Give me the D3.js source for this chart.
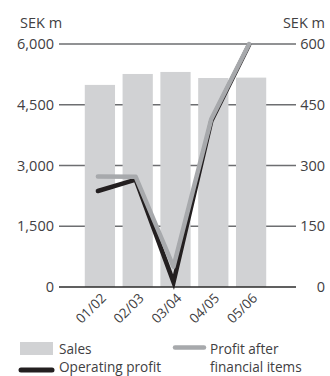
<!DOCTYPE html>
<html><head><meta charset="utf-8">
<script src="https://cdn.jsdelivr.net/npm/d3@7"></script>
<style>
body{margin:0;background:#fff;}
svg{display:block;font-family:"Open Sans",sans-serif;}
</style></head>
<body><svg id="c" width="330" height="376"></svg>
<script>
const categories = ["01/02","02/03","03/04","04/05","05/06"];
const sales = [4990, 5260, 5310, 5160, 5170];
const operatingProfit = [237, 265, 12, 410, 598];
const profitAfterFin = [273, 272, 50, 415, 600];
const leftTicks = [0, 1500, 3000, 4500, 6000];
const rightTicks = [0, 150, 300, 450, 600];

const svg = d3.select("#c");
const txt = "#414042";
const fs = "14.5px";
const lfs = "13.6px";

const x = d3.scaleBand().domain(categories).range([81, 270]).paddingInner(0.2).paddingOuter(0.1);
const yL = d3.scaleLinear().domain([0, 6000]).range([287, 44]);
const yR = d3.scaleLinear().domain([0, 600]).range([287, 44]);
const fmt = d3.format(",");

// gridlines
svg.append("g").selectAll("line").data(leftTicks.filter(d => d > 0)).join("line")
  .attr("x1", 59).attr("x2", 296)
  .attr("y1", d => yL(d)).attr("y2", d => yL(d))
  .attr("stroke", "#6d6e71").attr("stroke-width", 1.3);

// bars
svg.append("g").selectAll("rect").data(categories).join("rect")
  .attr("x", d => x(d)).attr("width", x.bandwidth())
  .attr("y", (d, i) => yL(sales[i])).attr("height", (d, i) => yL(0) - yL(sales[i]))
  .attr("fill", "#d1d2d4");

// zero axis line
svg.append("line").attr("x1", 59).attr("x2", 296).attr("y1", yL(0)).attr("y2", yL(0))
  .attr("stroke", "#2b2b2b").attr("stroke-width", 1.3);

// axis labels
svg.append("g").selectAll("text").data(leftTicks).join("text")
  .attr("x", 54).attr("y", d => yL(d)).attr("dy", "0.36em")
  .attr("text-anchor", "end").attr("fill", txt).style("font-size", fs)
  .text(d => fmt(d));
svg.append("g").selectAll("text").data(rightTicks).join("text")
  .attr("x", 325).attr("y", d => yR(d)).attr("dy", "0.36em")
  .attr("text-anchor", "end").attr("fill", txt).style("font-size", fs)
  .text(d => fmt(d));
svg.append("text").attr("x", 20).attr("y", 28).attr("fill", txt).style("font-size", fs).text("SEK m");
svg.append("text").attr("x", 325).attr("y", 28).attr("text-anchor", "end").attr("fill", txt).style("font-size", fs).text("SEK m");

// x labels
svg.append("g").selectAll("text").data(categories).join("text")
  .attr("transform", d => `translate(${x(d) + x.bandwidth() / 2 + 7},${299}) rotate(-45)`)
  .attr("text-anchor", "end").attr("fill", txt).style("font-size", "13.5px")
  .text(d => d);

// lines
const cx = d => x(d) + x.bandwidth() / 2 - 2;
const lineOp = d3.line().x((d, i) => cx(categories[i])).y(d => yR(d));
svg.append("path").datum(operatingProfit).attr("d", lineOp)
  .attr("fill", "none").attr("stroke", "#231f20").attr("stroke-width", 4.5)
  .attr("stroke-linecap", "round").attr("stroke-linejoin", "miter");
svg.append("path").datum(profitAfterFin).attr("d", lineOp)
  .attr("fill", "none").attr("stroke", "#a7a9ac").attr("stroke-width", 4.5)
  .attr("stroke-linecap", "round").attr("stroke-linejoin", "round");

// legend
svg.append("rect").attr("x", 20).attr("y", 342).attr("width", 33).attr("height", 13).attr("fill", "#d1d2d4");
svg.append("text").attr("x", 59).attr("y", 354).attr("fill", txt).style("font-size", lfs).text("Sales");
svg.append("line").attr("x1", 21).attr("x2", 52).attr("y1", 370).attr("y2", 370)
  .attr("stroke", "#231f20").attr("stroke-width", 5).attr("stroke-linecap", "round");
svg.append("text").attr("x", 59).attr("y", 372.3).attr("fill", txt).style("font-size", lfs).text("Operating profit");
svg.append("line").attr("x1", 175).attr("x2", 204).attr("y1", 347.5).attr("y2", 347.5)
  .attr("stroke", "#a7a9ac").attr("stroke-width", 4.5).attr("stroke-linecap", "round");
svg.append("text").attr("x", 210).attr("y", 353.5).attr("fill", txt).style("font-size", lfs).text("Profit after");
svg.append("text").attr("x", 210).attr("y", 372.3).attr("fill", txt).style("font-size", lfs).text("financial items");
</script></body></html>
